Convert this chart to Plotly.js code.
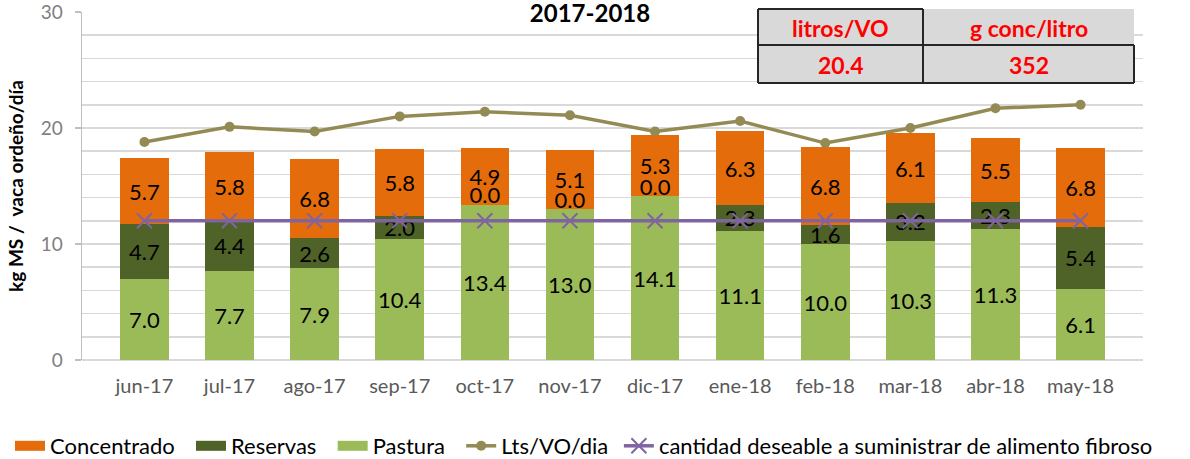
<!DOCTYPE html>
<html>
<head>
<meta charset="utf-8">
<script src="https://cdn.plot.ly/plotly-3.0.1.min.js"></script>
<style>body{margin:0;background:#fff;} #chart{width:1190px;height:459px;}</style>
</head>
<body>
<div id="chart"></div>
<script>
const months = ['jun-17','jul-17','ago-17','sep-17','oct-17','nov-17','dic-17','ene-18','feb-18','mar-18','abr-18','may-18'];
const pastura = [7.0, 7.7, 7.9, 10.4, 13.4, 13.0, 14.1, 11.1, 10.0, 10.3, 11.3, 6.1];
const reservas = [4.7, 4.4, 2.6, 2.0, 0.0, 0.0, 0.0, 2.3, 1.6, 3.2, 2.3, 5.4];
const concentrado = [5.7, 5.8, 6.8, 5.8, 4.9, 5.1, 5.3, 6.3, 6.8, 6.1, 5.5, 6.8];
const ltsVO = [18.8, 20.1, 19.7, 21.0, 21.4, 21.1, 19.7, 20.6, 18.7, 20.0, 21.7, 22.0];
const deseable = [12, 12, 12, 12, 12, 12, 12, 12, 12, 12, 12, 12];
const tableHeaders = ['litros/VO', 'g conc/litro'];
const tableValues = ['20.4', '352'];

const FONT = 'Lato, "Open Sans", sans-serif';
const W = 1190, H = 459;
const mL = 82, mR = 47, mT = 12, mB = 99;
const pw = W - mL - mR, ph = H - mT - mB;
const px = x => (x - mL) / pw;
const py = y => 1 - (y - mT) / ph;
const pad = '\u00a0\u00a0';

const lblFont = {family: FONT, size: 22, color: '#000'};
const colors = {Pastura: '#9bbb59', Reservas: '#4f6228', Concentrado: '#e46c0a'};

function barTrace(name, vals) {
  return {
    type: 'bar', name: name, x: months, y: vals,
    marker: {color: colors[name]},
    text: vals.map(v => v === 0 ? '' : v.toFixed(1)),
    textposition: 'inside', insidetextanchor: 'middle',
    textangle: 0, constraintext: 'none',
    textfont: lblFont, insidetextfont: lblFont,
    hoverinfo: 'none', showlegend: false
  };
}
function legendBox(name, rank) {
  return {type: 'scatter', mode: 'lines', name: name + pad, x: [null], y: [null],
    line: {color: colors[name], width: 12}, legendrank: rank, hoverinfo: 'none'};
}

const zeroIdx = reservas.map((v, i) => v === 0 ? i : -1).filter(i => i >= 0);

const data = [
  barTrace('Pastura', pastura),
  barTrace('Reservas', reservas),
  barTrace('Concentrado', concentrado),
  {
    type: 'scatter', mode: 'text', showlegend: false, hoverinfo: 'none',
    x: zeroIdx.map(i => months[i]),
    y: zeroIdx.map(i => pastura[i] + reservas[i] + 0.6),
    text: zeroIdx.map(i => reservas[i].toFixed(1)),
    textposition: 'middle center', textfont: lblFont
  },
  legendBox('Concentrado', 1),
  legendBox('Reservas', 2),
  legendBox('Pastura', 3),
  {
    type: 'scatter', mode: 'lines+markers', name: 'Lts/VO/dia\u00a0', x: months, y: ltsVO,
    line: {color: '#948a54', width: 3.5},
    marker: {symbol: 'circle', size: 10, color: '#948a54'},
    legendrank: 4, hoverinfo: 'none'
  },
  {
    type: 'scatter', mode: 'lines+markers', name: 'cantidad deseable a suministrar de alimento fibroso',
    x: months, y: deseable,
    line: {color: '#8064a2', width: 3.5},
    marker: {symbol: 'x-thin-open', size: 15, color: '#8064a2', line: {color: '#8064a2', width: 2}},
    legendrank: 5, hoverinfo: 'none'
  }
];

const tx0 = 758, tx1 = 923, tx2 = 1134, ty0 = 9, ty1 = 45, ty2 = 83;
const lineStyle = {color: '#262626', width: 2};
const shapes = [
  {type: 'rect', xref: 'paper', yref: 'paper', x0: px(523), x1: px(657), y0: py(0), y1: py(22), fillcolor: '#fff', line: {width: 0}, layer: 'above'},
  {type: 'rect', xref: 'paper', yref: 'paper', x0: px(tx0), x1: px(tx2), y0: py(ty0), y1: py(ty2), fillcolor: '#d9d9d9', line: {width: 0}, layer: 'above'},
  {type: 'line', xref: 'paper', yref: 'paper', x0: px(tx0), x1: px(tx1), y0: py(ty0), y1: py(ty0), line: lineStyle, layer: 'above'},
  {type: 'line', xref: 'paper', yref: 'paper', x0: px(tx0), x1: px(tx2), y0: py(ty1), y1: py(ty1), line: lineStyle, layer: 'above'},
  {type: 'line', xref: 'paper', yref: 'paper', x0: px(tx0), x1: px(tx2), y0: py(ty2), y1: py(ty2), line: lineStyle, layer: 'above'},
  {type: 'line', xref: 'paper', yref: 'paper', x0: px(tx0), x1: px(tx0), y0: py(ty0), y1: py(ty2), line: lineStyle, layer: 'above'},
  {type: 'line', xref: 'paper', yref: 'paper', x0: px(tx1), x1: px(tx1), y0: py(ty0), y1: py(ty2), line: lineStyle, layer: 'above'},
  {type: 'line', xref: 'paper', yref: 'paper', x0: px(tx2), x1: px(tx2), y0: py(ty1), y1: py(ty2), line: lineStyle, layer: 'above'}
];

const tFont = {family: FONT, size: 23, color: '#ff0000'};
const annotations = [];
[[tx0, tx1], [tx1, tx2]].forEach((c, i) => {
  annotations.push({xref: 'paper', yref: 'paper', x: px((c[0] + c[1]) / 2), y: py((ty0 + ty1) / 2 + 1),
    text: '<b>' + tableHeaders[i] + '</b>', showarrow: false, font: tFont, xanchor: 'center', yanchor: 'middle'});
  annotations.push({xref: 'paper', yref: 'paper', x: px((c[0] + c[1]) / 2), y: py((ty1 + ty2) / 2 + 1),
    text: '<b>' + tableValues[i] + '</b>', showarrow: false, font: tFont, xanchor: 'center', yanchor: 'middle'});
});

const layout = {
  width: W, height: H,
  margin: {l: mL, r: mR, t: mT, b: mB, pad: 0, autoexpand: false},
  paper_bgcolor: '#fff', plot_bgcolor: '#fff',
  barmode: 'stack', bargap: 0.43,
  title: {text: '<b>2017-2018</b>', x: px(590), xanchor: 'center', xref: 'paper',
    y: 1 - 14 / H, yref: 'container', yanchor: 'middle',
    font: {family: FONT, size: 24, color: '#000'}},
  xaxis: {
    type: 'category', showgrid: false, zeroline: false,
    showline: false, ticks: '',
    tickfont: {family: FONT, size: 20, color: '#595959'},
    ticklabelstandoff: 12
  },
  yaxis: {
    range: [0, 30], tickvals: [0, 10, 20, 30], ticktext: ['0', '10', '20', '30'],
    ticklabeloverflow: 'allow',
    showgrid: true, gridcolor: '#d9d9d9', gridwidth: 1.5,
    minor: {dtick: 2, tick0: 0, showgrid: true, gridcolor: '#d9d9d9', gridwidth: 1.5, ticks: ''},
    zeroline: true, zerolinecolor: '#d9d9d9', zerolinewidth: 1.5,
    showline: true, linecolor: '#bfbfbf', linewidth: 1.5,
    ticks: 'outside', ticklen: 6, tickcolor: '#bfbfbf', tickwidth: 1.5,
    tickfont: {family: FONT, size: 19, color: '#7f7f7f'},
    ticklabelstandoff: 8,
    title: {text: '<b>kg MS /  vaca ordeño/día</b>', font: {family: FONT, size: 19, color: '#000'}, standoff: 12}
  },
  legend: {
    orientation: 'h', x: px(10), xanchor: 'left', y: py(446), yanchor: 'middle',
    font: {family: FONT, size: 22, color: '#000'},
    itemwidth: 30, tracegroupgap: 0, traceorder: 'normal'
  },
  shapes: shapes,
  annotations: annotations,
  showlegend: true
};

Plotly.newPlot('chart', data, layout, {staticPlot: true, displayModeBar: false});
</script>
</body>
</html>
